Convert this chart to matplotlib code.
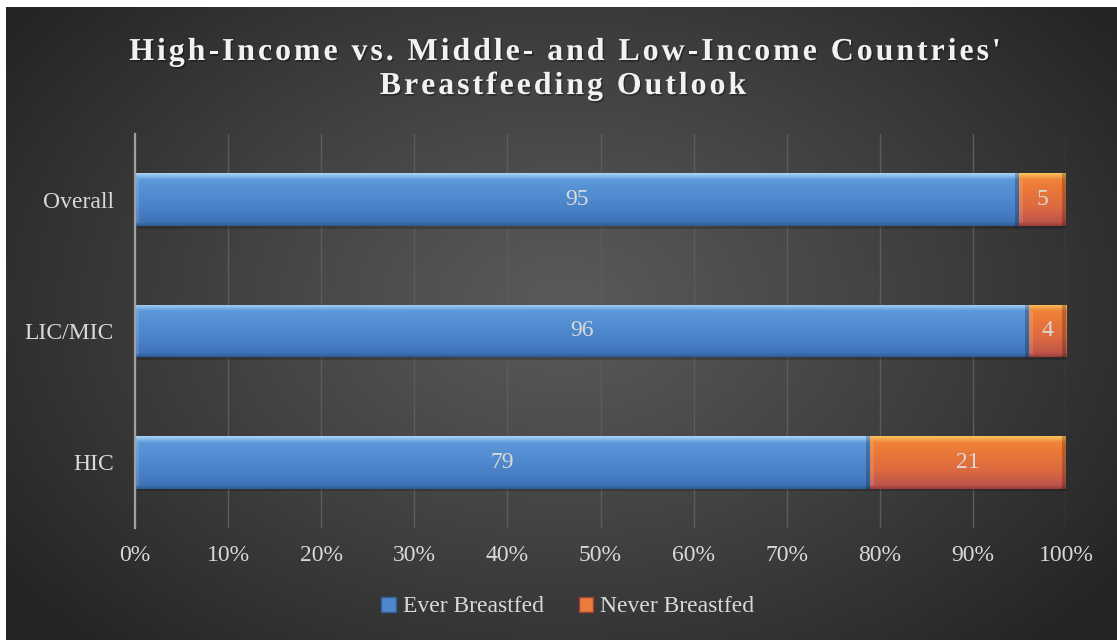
import numpy as np
import matplotlib
matplotlib.use('Agg')
import matplotlib.pyplot as plt
import matplotlib.patheffects as pe
from matplotlib.font_manager import FontProperties, findfont, get_font
from matplotlib.patches import Patch
from matplotlib.colors import LinearSegmentedColormap

categories = ['HIC', 'LIC/MIC', 'Overall']
ever_breastfed = [79, 96, 95]
never_breastfed = [21, 4, 5]
series_names = ['Ever Breastfed', 'Never Breastfed']
title_lines = ["High-Income vs. Middle- and Low-Income Countries'",
               "Breastfeeding Outlook"]

W, H = 1117, 640
serif = ['Liberation Serif', 'DejaVu Serif']
txtcol = '#d9d9d9'

plt.rcParams['font.family'] = serif

fig = plt.figure(figsize=(W / 100, H / 100), dpi=100, facecolor='white')

# dark radial background, white margin on top and left like the source
bg = fig.add_axes([6 / W, 0, 1 - 6 / W, 1 - 7 / H], zorder=-10)
yy, xx = np.mgrid[0:300, 0:520]
cx, cy = 520 * 0.5, 300 * 0.47
r = np.sqrt(((xx - cx) / (520 * 0.62)) ** 2 + ((yy - cy) / (300 * 0.75)) ** 2)
r = np.clip(r, 0, 1) ** 1.1
c_in, c_out = 0x5a / 255, 0x24 / 255
img = c_in + (c_out - c_in) * r
bg.imshow(np.dstack([img, img, img]), aspect='auto', extent=[0, 1, 0, 1])
bg.set_axis_off()

ax = fig.add_axes([135 / W, (H - 528) / H, (1066 - 135) / W, (528 - 134) / H])
ax.set_facecolor('none')

y = np.arange(len(categories))
ever = np.array(ever_breastfed) / 100
never = np.array(never_breastfed) / 100
bh = 0.40

blue_grad = ['#2f5f99', '#3f74b8', '#4a82c8', '#5590d4', '#5d98da', '#a9d3f8']
orange_grad = ['#9c4039', '#c0554a', '#dc6a40', '#ea7838', '#ef8237', '#fcc15c']


def shade(patches, stops):
    pos = [0, 0.08, 0.35, 0.7, 0.88, 1.0]
    cmap = LinearSegmentedColormap.from_list('g', list(zip(pos, stops)))
    grad = np.linspace(0, 1, 64).reshape(-1, 1)
    edge = 4.0 / 931
    for p in patches:
        x0, y0 = p.get_x(), p.get_y()
        w, h = p.get_width(), p.get_height()
        # soft shadow below bar
        ax.add_patch(plt.Rectangle((x0 + 0.002, y0 - 0.02), w, h, color='black',
                                   alpha=0.18, lw=0, zorder=1.5))
        im = ax.imshow(grad, cmap=cmap, origin='lower', aspect='auto',
                       extent=[x0, x0 + w, y0, y0 + h], zorder=2.5)
        im.set_clip_path(p)
        # bevel: light left side, dark right side
        ax.add_patch(plt.Rectangle((x0, y0 + 0.02), edge, h - 0.06, color='white',
                                   alpha=0.12, lw=0, zorder=2.6))
        ax.add_patch(plt.Rectangle((x0 + w - edge, y0), edge, h, color='black',
                                   alpha=0.22, lw=0, zorder=2.6))


b1 = ax.barh(y, ever, height=bh, color='#4f88cc', lw=0, zorder=2)
b2 = ax.barh(y, never, left=ever, height=bh, color='#ec7a3a', lw=0, zorder=2)
shade(b1, blue_grad)
shade(b2, orange_grad)

for i in range(len(categories)):
    ax.text(ever[i] / 2, y[i], str(ever_breastfed[i]), ha='center', va='center',
            color=txtcol, fontsize=17, zorder=4)
    ax.text(ever[i] + never[i] / 2, y[i], str(never_breastfed[i]), ha='center',
            va='center', color=txtcol, fontsize=17, zorder=4)

ax.set_xlim(0, 1)
ax.set_ylim(-0.5, len(categories) - 0.5)
ticks = np.arange(0, 1.01, 0.1)
ax.set_xticks(ticks)
ax.set_xticklabels(['%d%%' % round(t * 100) for t in ticks])
ax.set_yticks(y)
ax.set_yticklabels(categories)
ax.tick_params(axis='x', length=0, pad=12, labelsize=17, colors=txtcol)
ax.tick_params(axis='y', length=0, pad=15, labelsize=17, colors=txtcol)
ax.grid(axis='x', color='#5c5c5c', lw=1, zorder=0)
ax.set_axisbelow(True)
for s in ['top', 'right', 'bottom']:
    ax.spines[s].set_visible(False)
ax.spines['left'].set_color('#a0a0a0')
ax.spines['left'].set_linewidth(1.6)
ax.spines['left'].set_zorder(5)

leg = fig.legend(handles=[Patch(facecolor='#4f88cc', edgecolor='#2f5f99'),
                          Patch(facecolor='#ec7a3a', edgecolor='#9c4039')],
                 labels=series_names, loc='center', bbox_to_anchor=(568 / W, 1 - 607 / H),
                 ncol=2, frameon=False, fontsize=17, labelcolor=txtcol,
                 handlelength=0.6, handleheight=0.6, handletextpad=0.3,
                 columnspacing=1.5)


# title with wide letter spacing, drawn glyph by glyph
def spaced_title(text, xc, baseline, size, track):
    prop = FontProperties(family=serif, weight='bold', size=size)
    font = get_font(findfont(prop))
    font.set_size(size, 100)
    adv = [font.load_char(ord(ch)).linearHoriAdvance / 65536 for ch in text]
    total = sum(adv) + track * (len(text) - 1)
    x = xc - total / 2
    for ch, a in zip(text, adv):
        fig.text(x / W, 1 - baseline / H, ch, fontproperties=prop, color='#f2f2f2',
                 ha='left', va='baseline',
                 path_effects=[pe.withSimplePatchShadow(offset=(1, -1.2),
                                                        shadow_rgbFace='black', alpha=0.35)])
        x += a + track


spaced_title(title_lines[0], 565, 60, 23, 2.9)
spaced_title(title_lines[1], 563, 94, 23, 2.9)

fig.savefig('out.png', dpi=100, facecolor=fig.get_facecolor())
